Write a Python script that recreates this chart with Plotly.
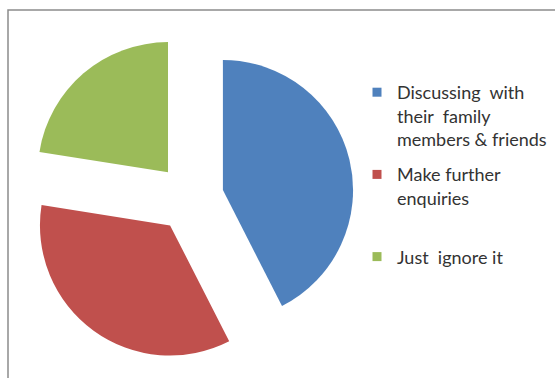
import plotly.graph_objects as go

categories = ["Discussing  with<br>their  family<br>members & friends",
              "Make further<br>enquiries<br>&nbsp;",
              "Just  ignore it"]
values = [42.5, 35.0, 22.5]
colors = ["#4F81BD", "#C0504D", "#9BBB59"]
pulls = [0.26, 0.26, 0.26]

W, H = 555, 378
cx, cy, half = 190, 198, 164

fig = go.Figure()
fig.add_trace(go.Pie(
    labels=categories,
    values=values,
    sort=False,
    direction="clockwise",
    rotation=0,
    pull=pulls,
    marker=dict(colors=colors, line=dict(width=0)),
    textinfo="none",
    hoverinfo="label+percent",
    showlegend=False,
    domain=dict(x=[(cx - half) / W, (cx + half) / W],
                y=[1 - (cy + half) / H, 1 - (cy - half) / H]),
))

# legend entries (one group per slice so the gap between entries can be set)
for i, (lab, col) in enumerate(zip(categories, colors)):
    fig.add_trace(go.Scatter(
        x=[None], y=[None], mode="markers", name=lab,
        marker=dict(symbol="square", size=9, color=col),
        legendgroup=f"g{i}", showlegend=True, hoverinfo="skip",
    ))

fig.update_layout(
    width=W, height=H,
    margin=dict(l=0, r=0, t=0, b=0),
    paper_bgcolor="white",
    plot_bgcolor="white",
    xaxis=dict(visible=False),
    yaxis=dict(visible=False),
    font=dict(family="Lato, Noto Sans, sans-serif", size=18, color="#333333"),
    legend=dict(x=357 / W, y=1 - 74 / H, xanchor="left", yanchor="top",
                bgcolor="rgba(0,0,0,0)", tracegroupgap=9, valign="top",
                itemwidth=30, traceorder="grouped"),
    shapes=[dict(type="rect", xref="paper", yref="paper",
                 x0=8 / W, x1=1.05, y0=-0.05, y1=1 - 10 / H,
                 line=dict(color="#8c8c8c", width=1.5))],
)

fig.write_html("out.html")
